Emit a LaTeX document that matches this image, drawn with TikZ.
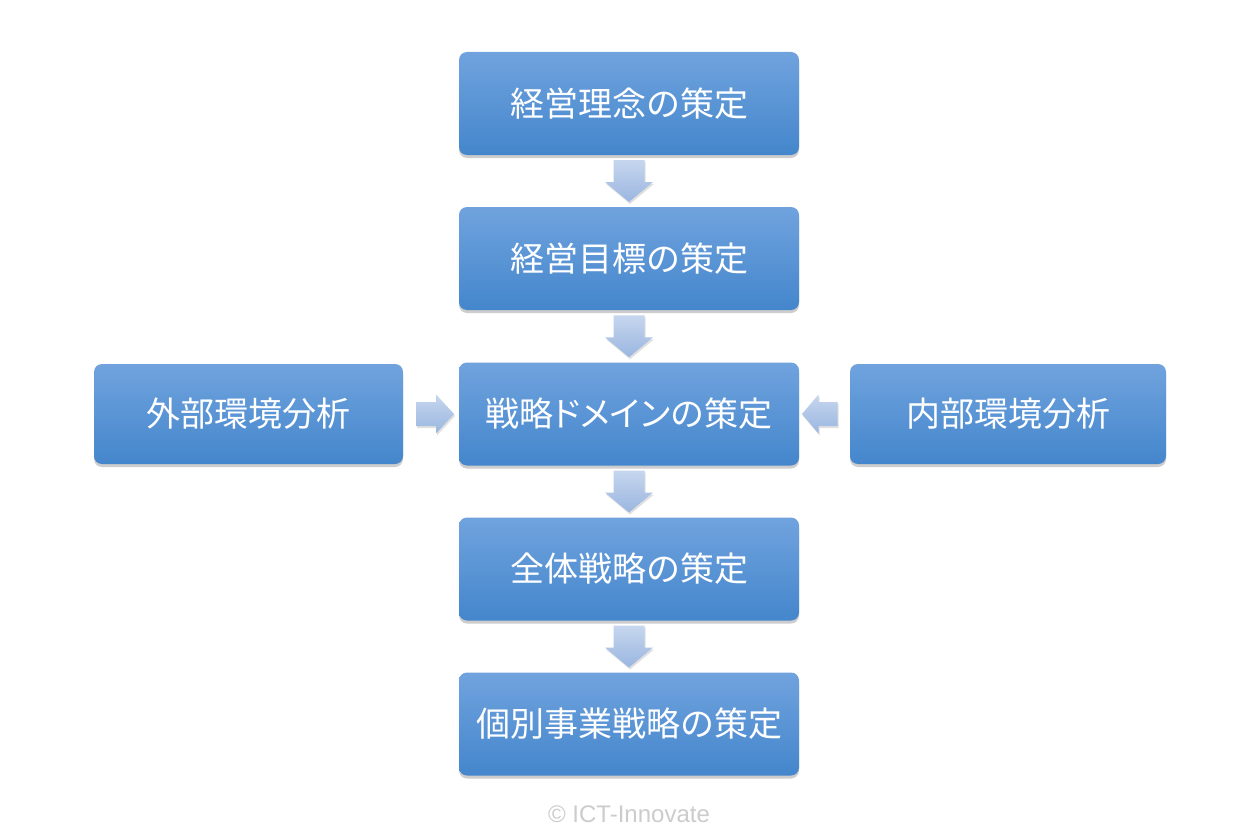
\documentclass[tikz,border=0pt]{standalone}
\usepackage{fontspec}
\setmainfont{Liberation Sans}
\newfontfamily\jpfont{Noto Sans CJK JP}
\newfontfamily\jppalt[RawFeature=+palt]{Noto Sans CJK JP}
\usetikzlibrary{calc,shadows}
\definecolor{boxtop}{RGB}{112,163,222}
\definecolor{boxbot}{RGB}{68,134,204}
\definecolor{arrtop}{RGB}{198,214,238}
\definecolor{arrbot}{RGB}{154,182,224}
\definecolor{copygray}{RGB}{204,204,204}
\tikzset{
  stepbox/.style={rectangle, rounded corners=8pt, top color=boxtop, bottom color=boxbot,
    draw=none, text=white, font=\jpfont\fontsize{34}{38}\selectfont,
    minimum width=340pt, minimum height=103pt, inner sep=0pt,
    drop shadow={shadow xshift=0pt, shadow yshift=-3pt, opacity=0.28, fill=black!70}},
  flowarrow/.style={top color=arrtop, bottom color=arrbot, draw=none,
    drop shadow={shadow xshift=1pt, shadow yshift=-2pt, opacity=0.2, fill=black!60}}
}
\begin{document}
\begin{tikzpicture}[x=1pt,y=-1pt]
\useasboundingbox (0,0) rectangle (1260,840);
\fill[white] (0,0) rectangle (1260,840);
\node[stepbox] (b1) at (629,103.5) {\raisebox{2pt}{経営理念の策定}};
\node[stepbox] (b2) at (629,258.5) {\raisebox{2pt}{経営目標の策定}};
\node[stepbox] (b3) at (629,414) {\raisebox{2pt}{戦略{\jppalt\fontsize{34}{38}\selectfont ドメイン}の策定}};
\node[stepbox] (b4) at (629,569) {\raisebox{2pt}{全体戦略の策定}};
\node[stepbox] (b5) at (629,724) {\raisebox{2pt}{個別事業戦略の策定}};
\node[stepbox, minimum width=309pt, minimum height=100pt] (ext) at (248.5,414) {\raisebox{2pt}{外部環境分析}};
\node[stepbox, minimum width=316pt, minimum height=100pt] (int) at (1008,414) {\raisebox{2pt}{内部環境分析}};
% down arrows
\foreach \a/\b in {b1/b2,b2/b3,b3/b4,b4/b5}{
  \path[flowarrow] let \p1=($(\a.south)!0.5!(\b.north)$) in
    (\x1-15.5,\y1+21) -- (\x1+15.5,\y1+21) -- (\x1+15.5,\y1-1) -- (\x1+24,\y1-1)
    -- (\x1,\y1-21) -- (\x1-24,\y1-1) -- (\x1-15.5,\y1-1) -- cycle;
}
% right-pointing arrow from ext to b3
\path[flowarrow] let \p1=($(ext.east)!0.5!(b3.west)$) in
  (\x1-15,\y1+12) -- (\x1+5,\y1+12) -- (\x1+5,\y1+19.5) -- (\x1+23,\y1)
  -- (\x1+5,\y1-19.5) -- (\x1+5,\y1-12) -- (\x1-15,\y1-12) -- cycle;
% left-pointing arrow from int to b3
\path[flowarrow] let \p1=($(int.west)!0.5!(b3.east)$) in
  (\x1+13,\y1+12) -- (\x1-6,\y1+12) -- (\x1-6,\y1+19.5) -- (\x1-22.5,\y1)
  -- (\x1-6,\y1-19.5) -- (\x1-6,\y1-12) -- (\x1+13,\y1-12) -- cycle;
\node[text=copygray, font=\fontsize{24}{28}\selectfont] (copy) at (629,814) {© ICT-Innovate};
\end{tikzpicture}
\end{document}
